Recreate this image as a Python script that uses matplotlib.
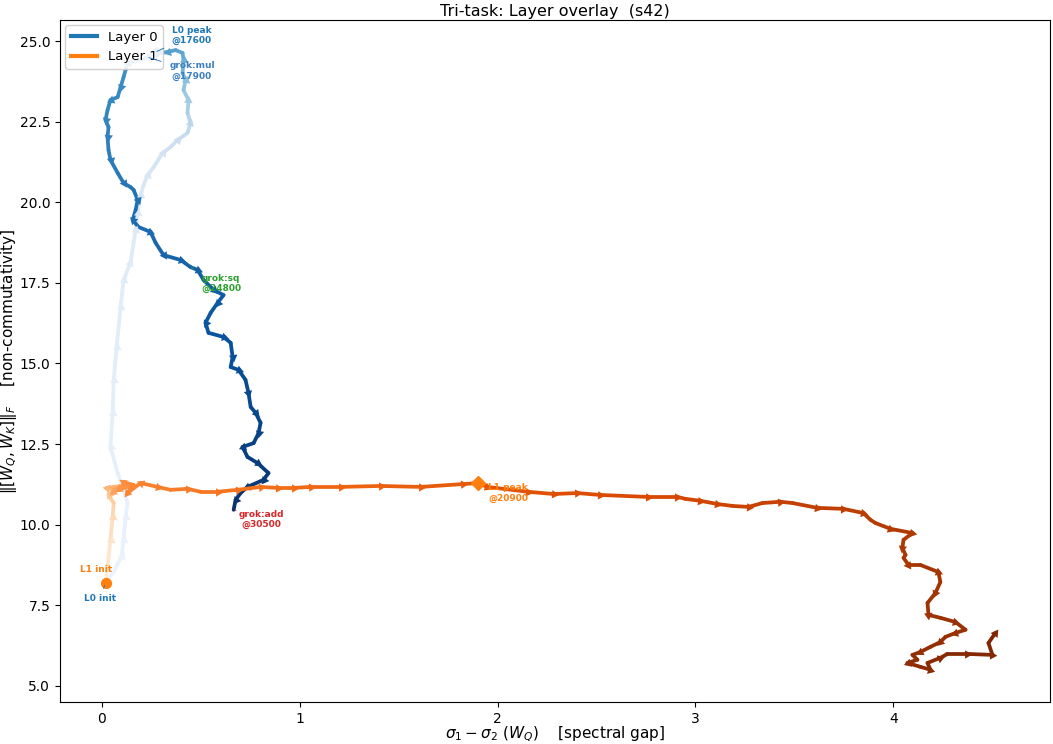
import numpy as np
import matplotlib
matplotlib.use("Agg")
import matplotlib.pyplot as plt
from matplotlib.collections import LineCollection
from matplotlib.colors import ListedColormap, Normalize
from matplotlib.lines import Line2D

# ---------------- data ----------------
l0_x = [0.02, 0.061, 0.101, 0.111, 0.121, 0.131, 0.106, 0.081, 0.045, 0.056,
        0.061, 0.076, 0.096, 0.111, 0.146, 0.172, 0.182, 0.197, 0.212, 0.232,
        0.263, 0.308, 0.348, 0.384, 0.434, 0.449, 0.434, 0.439, 0.414, 0.424,
        0.409, 0.414, 0.409, 0.374, 0.333, 0.298, 0.273, 0.232, 0.197, 0.162,
        0.131, 0.121, 0.111, 0.096, 0.081, 0.045, 0.030, 0.020, 0.035, 0.030,
        0.035, 0.045, 0.081, 0.111, 0.146, 0.162, 0.182, 0.172, 0.157, 0.187,
        0.247, 0.273, 0.313, 0.399, 0.449, 0.485, 0.515, 0.566, 0.616, 0.586,
        0.551, 0.525, 0.540, 0.616, 0.652, 0.662, 0.652, 0.692, 0.727, 0.742,
        0.753, 0.778, 0.803, 0.793, 0.768, 0.712, 0.737, 0.788, 0.843, 0.818,
        0.737, 0.702, 0.677, 0.667]
l0_y = [8.20, 8.53, 9.03, 9.53, 10.24, 10.67, 11.17, 11.60, 12.41, 13.47,
        14.49, 15.51, 16.75, 17.59, 18.12, 19.14, 19.67, 20.22, 20.53, 20.84,
        21.09, 21.53, 21.71, 21.93, 22.15, 22.46, 22.77, 23.17, 23.48, 23.79,
        24.01, 24.41, 24.63, 24.72, 24.66, 24.63, 24.66, 24.50, 24.41, 24.35,
        24.32, 24.10, 23.88, 23.57, 23.26, 23.17, 22.86, 22.55, 22.33, 22.02,
        21.62, 21.31, 20.91, 20.60, 20.47, 20.38, 20.07, 19.76, 19.45, 19.23,
        19.08, 18.74, 18.36, 18.21, 17.99, 17.90, 17.59, 17.28, 17.12, 16.88,
        16.57, 16.26, 15.95, 15.82, 15.64, 15.20, 14.89, 14.80, 14.49, 14.09,
        13.65, 13.47, 13.16, 12.84, 12.53, 12.41, 12.10, 11.91, 11.60, 11.39,
        11.17, 10.98, 10.77, 10.46]
l0_step = [0, 150, 300, 450, 600, 750, 900, 1050, 1200, 1350,
           1500, 1650, 1800, 1950, 2100, 2300, 2500, 2800, 3100, 3400,
           3700, 4300, 4900, 5600, 6400, 7400, 8600, 10000, 11000, 12000,
           13200, 14500, 15500, 16200, 16800, 17200, 17600, 17900, 18150, 18400,
           18650, 18900, 19150, 19400, 19650, 19900, 20150, 20400, 20650, 20900,
           21150, 21400, 21650, 21900, 22150, 22400, 22650, 22900, 23150, 23400,
           23650, 23900, 24150, 24400, 24650, 24900, 25100, 25300, 25500, 25700,
           25900, 26100, 26300, 26500, 26700, 26900, 27100, 27300, 27500, 27700,
           27900, 28100, 28300, 28500, 28700, 28900, 29100, 29300, 29500, 29700,
           29900, 30100, 30300, 30500]

l1_x = [0.02, 0.030, 0.045, 0.056, 0.061, 0.035, 0.071, 0.025, 0.096, 0.056,
        0.121, 0.086, 0.146, 0.110, 0.162, 0.130, 0.197, 0.283, 0.348, 0.434,
        0.500, 0.586, 0.687, 0.803, 0.889, 0.970, 1.056, 1.207, 1.409, 1.611,
        1.828, 1.899, 1.949, 2.152, 2.283, 2.404, 2.520, 2.758, 2.909, 2.949,
        3.025, 3.111, 3.187, 3.268, 3.338, 3.429, 3.490, 3.616, 3.747, 3.848,
        3.884, 3.909, 3.985, 4.096, 4.051, 4.045, 4.061, 4.051, 4.076, 4.136,
        4.227, 4.237, 4.212, 4.172, 4.177, 4.237, 4.313, 4.364, 4.313, 4.263,
        4.237, 4.187, 4.136, 4.096, 4.121, 4.071, 4.136, 4.187, 4.172, 4.237,
        4.273, 4.374, 4.500, 4.480, 4.515]
l1_y = [8.20, 8.69, 9.53, 10.24, 10.67, 10.92, 11.08, 11.14, 11.20, 11.02,
        11.26, 11.11, 11.17, 11.32, 11.23, 10.98, 11.29, 11.17, 11.08, 11.11,
        11.02, 11.02, 11.08, 11.17, 11.14, 11.14, 11.17, 11.17, 11.20, 11.17,
        11.26, 11.29, 11.17, 11.02, 10.95, 10.98, 10.92, 10.86, 10.86, 10.80,
        10.74, 10.64, 10.58, 10.55, 10.67, 10.71, 10.67, 10.52, 10.49, 10.36,
        10.15, 10.05, 9.87, 9.74, 9.53, 9.28, 9.06, 8.97, 8.75, 8.75,
        8.53, 8.22, 7.88, 7.57, 7.20, 7.11, 6.98, 6.74, 6.64, 6.52,
        6.36, 6.21, 6.05, 5.96, 5.81, 5.71, 5.59, 5.50, 5.71, 5.87,
        5.99, 5.99, 5.96, 6.33, 6.64]
l1_step = [0, 1500, 3000, 4500, 6000, 7500, 8500, 9500, 10500, 11500,
           12500, 13500, 14000, 14500, 15000, 15300, 15600, 16000, 16300, 16600,
           16900, 17200, 17500, 17800, 18100, 18400, 18700, 19100, 19500, 19900,
           20500, 20900, 21100, 21400, 21700, 22000, 22300, 22600, 22900, 23100,
           23300, 23500, 23700, 23900, 24100, 24300, 24500, 24700, 24900, 25100,
           25300, 25500, 25700, 25900, 26100, 26250, 26400, 26550, 26700, 26850,
           27000, 27150, 27300, 27450, 27600, 27750, 27900, 28050, 28200, 28350,
           28500, 28650, 28800, 28950, 29100, 29250, 29400, 29550, 29700, 29850,
           30000, 30200, 30400, 30700, 31000]

layer_names = ["Layer 0", "Layer 1"]
layer_colors = ["#1f77b4", "#ff7f0e"]

L0_PEAK, L1_PEAK = 36, 31
# events: (layer, index in that layer's arrays, text, colour, offset pts)
events = [
    ("L0", L0_PEAK, "L0 peak\n@17600", "#1f77b4", (26, 12)),
    ("L0", 37, "grok:mul\n@17900", "#3a7fc0", (32, -10)),
    ("L0", 64, "grok:sq\n@24800", "#2ca02c", (22, -12)),
    ("L0", 93, "grok:add\n@30500", "#d62728", (20, -7)),
    ("L1", L1_PEAK, "L1 peak\n@20900", "#ff7f0e", (22, -7)),
]

# ---------------- figure ----------------
fig, ax = plt.subplots(figsize=(10.53, 7.44), dpi=100)
fig.subplots_adjust(left=0.057, right=0.997, top=0.973, bottom=0.0565)
ax.set_xlim(-0.21, 4.79)
ax.set_ylim(4.50, 25.65)

STEP_MAX = 31000.0
norm = Normalize(0, STEP_MAX)


def trunc(name, lo=0.06, hi=1.0):
    base = plt.get_cmap(name)
    return ListedColormap(base(np.linspace(lo, hi, 256)))


def draw_path(xs, ys, steps, cmap, z, gap=16.0):
    xs = np.asarray(xs, float)
    ys = np.asarray(ys, float)
    st = np.asarray(steps, float)
    pts = np.column_stack([xs, ys])
    segs = np.stack([pts[:-1], pts[1:]], axis=1)
    lc = LineCollection(segs, cmap=cmap, norm=norm, linewidths=2.7,
                        capstyle="round", joinstyle="round", zorder=z)
    lc.set_array(0.5 * (st[:-1] + st[1:]))
    ax.add_collection(lc)
    disp = ax.transData.transform(pts)
    acc = 0.0
    for i in range(1, len(xs)):
        d = disp[i] - disp[i - 1]
        acc += np.hypot(*d)
        if acc < gap:
            continue
        acc = 0.0
        ang = np.degrees(np.arctan2(d[1], d[0]))
        ax.plot(xs[i], ys[i], marker=(3, 0, ang - 90), ms=7,
                color=cmap(norm(st[i])), mec="none", zorder=z + 0.1)


cm0 = trunc("Blues")
cm1 = trunc("Oranges")
draw_path(l0_x, l0_y, l0_step, cm0, 2)
draw_path(l1_x, l1_y, l1_step, cm1, 3)

# init markers
ax.plot(l0_x[0], l0_y[0], "o", color=layer_colors[0], ms=6, zorder=4)
ax.plot(l1_x[0], l1_y[0], "o", color=layer_colors[1], ms=7, zorder=5)
ax.annotate("L1 init", (l1_x[0], l1_y[0]), xytext=(-7, 6), textcoords="offset points",
            ha="center", va="bottom", fontsize=6.5, fontweight="bold", color=layer_colors[1],
            arrowprops=dict(arrowstyle="-", color=layer_colors[1], lw=0.6), zorder=6)
ax.annotate("L0 init", (l0_x[0], l0_y[0]), xytext=(-4, -8), textcoords="offset points",
            ha="center", va="top", fontsize=6.5, fontweight="bold", color=layer_colors[0],
            arrowprops=dict(arrowstyle="-", color=layer_colors[0], lw=0.6), zorder=6)

# peak markers
ax.plot(l0_x[L0_PEAK], l0_y[L0_PEAK], "D", color=layer_colors[0], ms=5, zorder=4)
ax.plot(l1_x[L1_PEAK], l1_y[L1_PEAK], "D", color=layer_colors[1], ms=7, zorder=5)

for layer, idx, txt, col, off in events:
    xs, ys = (l0_x, l0_y) if layer == "L0" else (l1_x, l1_y)
    ax.annotate(txt, (xs[idx], ys[idx]), xytext=off, textcoords="offset points",
                ha="center", va="center", fontsize=6.5, fontweight="bold", color=col,
                arrowprops=dict(arrowstyle="-", color=col, lw=0.7, shrinkA=4, shrinkB=1),
                zorder=7)

handles = [Line2D([0], [0], color=c, lw=3) for c in layer_colors]
ax.legend(handles, layer_names, loc="upper left", fontsize=9.5, framealpha=0.9,
          borderaxespad=0.4)

ax.set_title("Tri-task: Layer overlay  (s42)", fontsize=11.5, pad=3)
ax.set_xlabel(r"$\sigma_1 - \sigma_2\ (W_Q)$    [spectral gap]", fontsize=11)
ax.set_ylabel(r"$\|[W_Q, W_K]\|_F$    [non-commutativity]", fontsize=11)
ax.xaxis.set_label_coords(0.5, -0.048)
ax.xaxis.label.set_va("center")
ax.yaxis.set_label_coords(-0.041, 0.5)

fig.savefig("out.png", dpi=100)
